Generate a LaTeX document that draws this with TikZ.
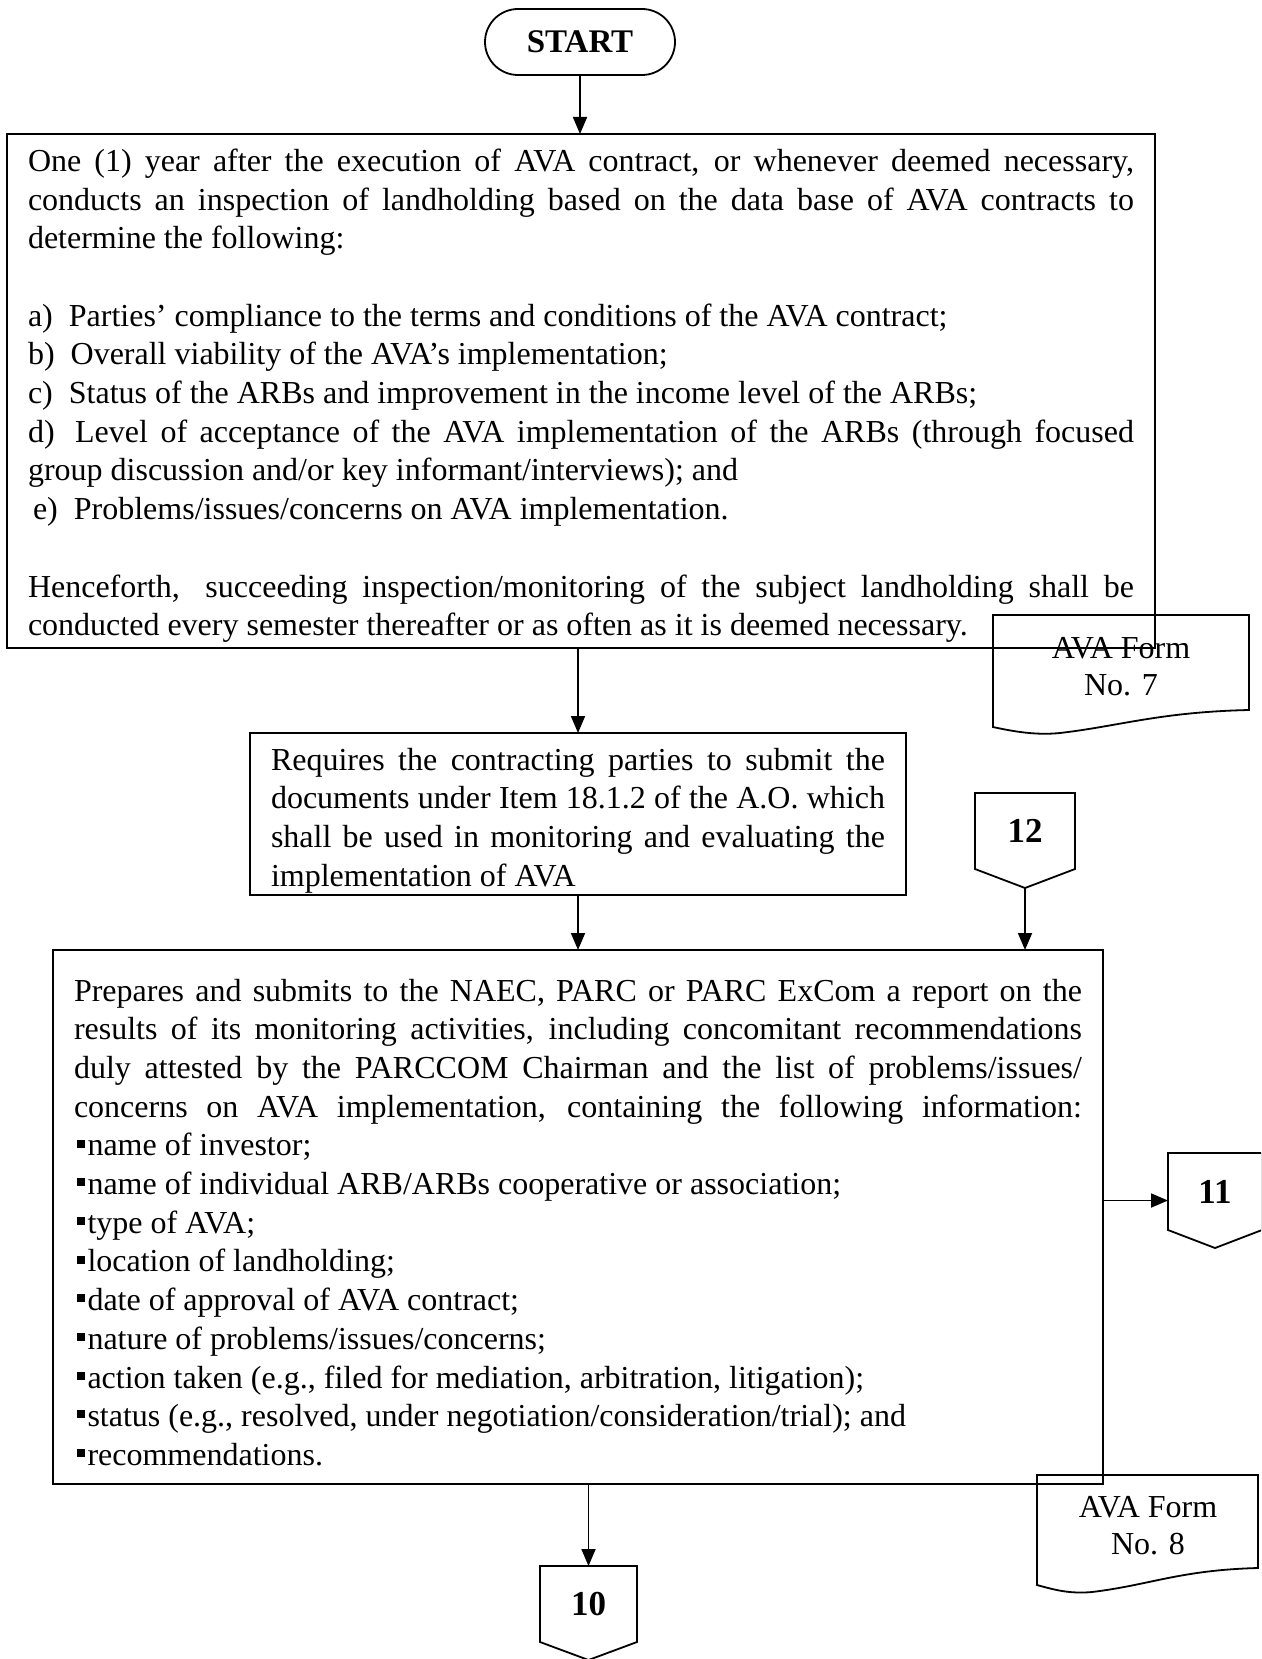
\documentclass[tikz,border=0pt]{standalone}
\usepackage{fontspec}
\setmainfont{Liberation Serif}
\usetikzlibrary{shapes.misc,arrows.meta,calc}
% small raised square used as list bullet
\newcommand{\sqbul}{\hspace*{3pt}\rule[0.26em]{8pt}{8pt}\hspace{2.5pt}}
\begin{document}
\begin{tikzpicture}[x=1pt,y=-1pt,
  line width=1.8pt,
  every node/.style={inner sep=0pt, outer sep=0pt},
  body/.style={font=\fontsize{32}{38.7}\selectfont},
  procbox/.style={draw, body, align=justify, anchor=north west, inner xsep=21pt},
  formtext/.style={align=center, font=\fontsize{32}{37}\selectfont},
  tagnum/.style={font=\fontsize{35}{40}\selectfont\bfseries},
  arr/.style={-{Triangle[length=17pt,width=14pt]}},
]
\clip (0,0) rectangle (1261,1659);
\fill[white] (0,0) rectangle (1261,1659);

% terminal
\node[draw, rounded rectangle, minimum width=190, minimum height=66,
      font=\fontsize{33}{38}\selectfont\bfseries] (start) at (580,42) {START};

% inspection step
\node[procbox, text width=1106, minimum height=514] (insp) at (7,134) {\parindent=0pt
\rule{0pt}{32pt}One (1) year after the execution of AVA contract, or whenever deemed necessary,\linebreak
conducts an inspection of landholding based on the data base of AVA contracts to\linebreak
determine the following:\par
\vspace{38.7pt}
a)\hspace{8pt} Parties’ compliance to the terms and conditions of the AVA contract;\newline
b)\hspace{8pt} Overall viability of the AVA’s implementation;\newline
c)\hspace{8pt} Status of the ARBs and improvement in the income level of the ARBs;\newline
d)\hspace{8pt} Level of acceptance of the AVA implementation of the ARBs (through focused\linebreak
group discussion and/or key informant/interviews); and\newline
\hspace*{5pt}e)\hspace{8pt} Problems/issues/concerns on AVA implementation.\par
\vspace{38.7pt}
Henceforth,\hspace{9pt} succeeding inspection/monitoring of the subject landholding shall be\linebreak
conducted every semester thereafter or as often as it is deemed necessary.};

% form attached to the inspection step
\node[formtext] (f7) at (1121,667) {AVA Form\\No. 7};
\draw (993,615) -- (1249,615) -- (1249,710)
  .. controls (1160,712) and (1120,726) .. (1060,733)
  .. controls (1040,735) and (1020,733) .. (993,727) -- cycle;

% documents step
\node[procbox, text width=614, minimum height=162] (docs) at (250,733) {\parindent=0pt
\rule{0pt}{35pt}Requires the contracting parties to submit the\linebreak
documents under Item 18.1.2 of the A.O. which\linebreak
shall be used in monitoring and evaluating the\linebreak
implementation of AVA};

% reporting step
\node[procbox, text width=1008, minimum height=534] (rep) at (53,950) {\parindent=0pt
\rule{0pt}{33pt}Prepares and submits to the NAEC, PARC or PARC ExCom a report on the\linebreak
results of its monitoring activities, including concomitant recommendations\linebreak
duly attested by the PARCCOM Chairman and the list of problems/issues/\linebreak
concerns on AVA implementation, containing the following information:\linebreak
\sqbul name of investor;\newline
\sqbul name of individual ARB/ARBs cooperative or association;\newline
\sqbul type of AVA;\newline
\sqbul location of landholding;\newline
\sqbul date of approval of AVA contract;\newline
\sqbul nature of problems/issues/concerns;\newline
\sqbul action taken (e.g., filed for mediation, arbitration, litigation);\newline
\sqbul status (e.g., resolved, under negotiation/consideration/trial); and\newline
\sqbul recommendations.};

% form attached to the reporting step
\node[formtext] (f8) at (1148,1526) {AVA Form\\No. 8};
\draw (1037,1475) -- (1258,1475) -- (1258,1568)
  .. controls (1180,1570) and (1150,1585) .. (1092,1592)
  .. controls (1070,1594) and (1055,1590) .. (1037,1585) -- cycle;

% off-page connectors
\node[tagnum, minimum width=100, minimum height=76] (c12) at (1025,831) {12};
\coordinate (c12tip) at ($(c12.south)+(0,19)$);
\draw (c12.north west) -- (c12.north east) -- (c12.south east) -- (c12tip)
  -- (c12.south west) -- cycle;

\node[tagnum, minimum width=94, minimum height=77] (c11) at (1215,1191.5) {11};
\coordinate (c11tip) at ($(c11.south)+(0,18)$);
\coordinate (c11in) at ($(c11.west)+(0,9)$);
\draw (c11.north west) -- (c11.north east) -- (c11.south east) -- (c11tip)
  -- (c11.south west) -- cycle;

\node[tagnum, minimum width=97, minimum height=76] (c10) at (588.5,1604) {10};
\coordinate (c10tip) at ($(c10.south)+(0,18)$);
\draw (c10.north west) -- (c10.north east) -- (c10.south east) -- (c10tip)
  -- (c10.south west) -- cycle;

% flow
\draw[arr] (start.south) -- (start.south |- insp.north);
\draw[arr] (docs.north |- insp.south) -- (docs.north);
\draw[arr] (docs.south) -- (docs.south |- rep.north);
\draw[arr] (c12tip) -- (c12tip |- rep.north);
\draw[arr] (rep.east |- c11in) -- (c11in);
\draw[arr] (c10.north |- rep.south) -- (c10.north);
\end{tikzpicture}
\end{document}
